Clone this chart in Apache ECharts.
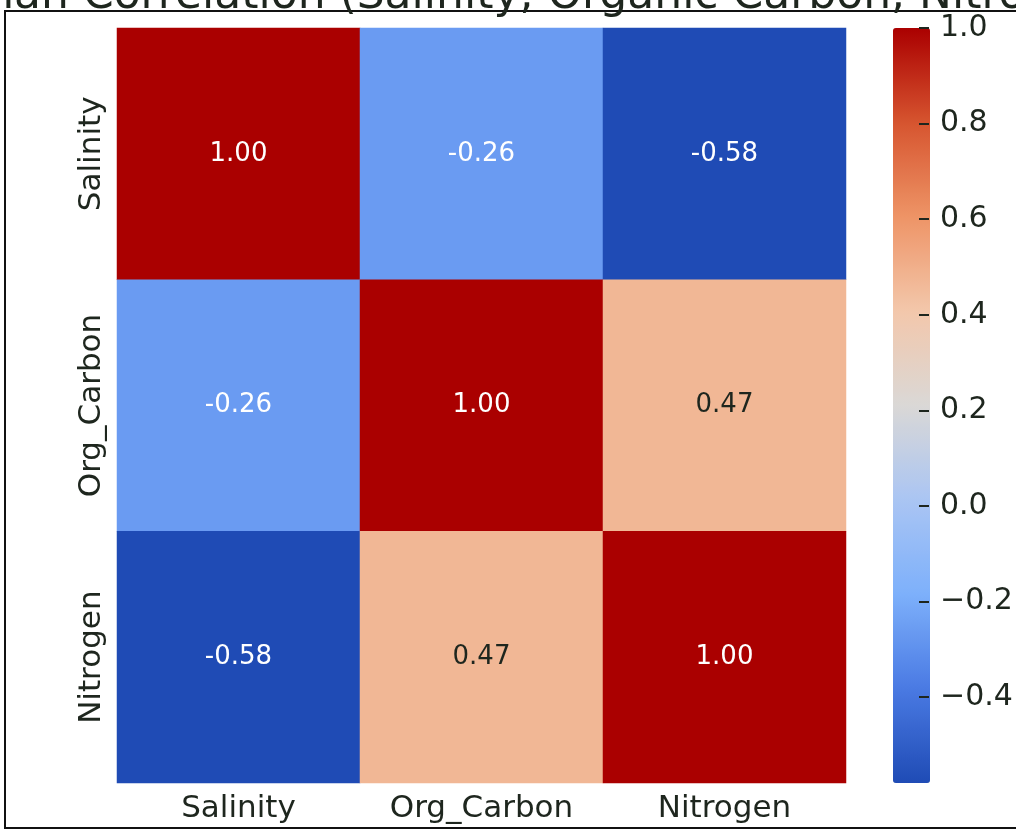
<!DOCTYPE html>
<html>
<head>
<meta charset="utf-8">
<script src="https://cdn.jsdelivr.net/npm/echarts@6/dist/echarts.min.js"></script>
<style>html,body{margin:0;padding:0;background:#fff;}#chart{width:1016px;height:837px;}</style>
</head>
<body>
<div id="chart"></div>
<script>
const variables = ['Salinity', 'Org_Carbon', 'Nitrogen'];
const corrMatrix = [
  [1.00, -0.26, -0.58],
  [-0.26, 1.00, 0.47],
  [-0.58, 0.47, 1.00]
];
const colorbarTicks = [-0.4, -0.2, 0.0, 0.2, 0.4, 0.6, 0.8, 1.0];
const colorMin = -0.58;
const colorMax = 1.0;
const titleText = 'Spearman Correlation (Salinity, Organic Carbon, Nitrogen)';

const heatData = [];
corrMatrix.forEach((row, r) => {
  row.forEach((v, c) => {
    const dark = v > 0 && v < 0.8;
    heatData.push({ value: [c, r, v], label: { color: dark ? '#1e261e' : '#ffffff' } });
  });
});

const chart = echarts.init(document.getElementById('chart'));
const FONT = 'DejaVu Sans';
chart.setOption({
  animation: false,
  backgroundColor: '#ffffff',
  title: {
    text: titleText,
    left: -156,
    top: -25,
    padding: 0,
    textStyle: { fontFamily: FONT, fontSize: 44, fontWeight: 'normal', color: '#1e261e' }
  },
  graphic: [{
    type: 'rect',
    shape: { x: 5, y: 11, width: 1100, height: 817 },
    style: { fill: 'none', stroke: '#111', lineWidth: 2 },
    silent: true,
    z: 0
  }],
  grid: [
    { left: 117, top: 28, width: 729, height: 755 },
    { left: 929, top: 28, width: 1, height: 755 }
  ],
  xAxis: [{
    type: 'category', data: variables, gridIndex: 0,
    axisLine: { show: false },
    axisTick: { show: true, inside: true, alignWithLabel: true, length: 12, lineStyle: { color: '#1e261e', width: 1.5 } },
    axisLabel: { fontFamily: FONT, fontSize: 31, color: '#1e261e', margin: 10 },
    splitLine: { show: false }
  }, {
    type: 'value', gridIndex: 1, min: 0, max: 1, show: false
  }],
  yAxis: [{
    type: 'category', data: variables, gridIndex: 0, inverse: true,
    axisLine: { show: false },
    axisTick: { show: true, inside: true, alignWithLabel: true, length: 11, lineStyle: { color: '#1e261e', width: 1.5 } },
    axisLabel: { fontFamily: FONT, fontSize: 31, color: '#1e261e', margin: 10, rotate: 90 },
    splitLine: { show: false }
  }, {
    type: 'value', gridIndex: 1, min: colorMin, max: colorMax, position: 'right',
    z: 20,
    axisLine: { show: false },
    axisTick: { show: true, inside: true, length: 10, customValues: colorbarTicks, lineStyle: { color: '#1e261e', width: 2 } },
    axisLabel: {
      fontFamily: FONT, fontSize: 30, color: '#1e261e', margin: 10,
      customValues: colorbarTicks,
      formatter: v => (v < 0 ? '\u2212' : '') + Math.abs(v).toFixed(1)
    },
    splitLine: { show: false }
  }],
  visualMap: {
    type: 'continuous',
    min: colorMin, max: colorMax,
    left: 893, top: 28,
    itemWidth: 37, itemHeight: 755,
    padding: 0,
    calculable: false,
    text: null,
    showLabel: false,
    seriesIndex: 0,
    z: 2,
    inRange: {
      color: ['#1f4bb5', '#4a7ae3', '#7db0fb', '#aac5f3', '#dad8d6', '#f3c7ab', '#ee9466', '#d6542f', '#aa0000']
    }
  },
  series: [{
    type: 'heatmap',
    xAxisIndex: 0, yAxisIndex: 0,
    data: heatData,
    label: {
      show: true, fontFamily: FONT, fontSize: 26,
      formatter: p => p.value[2].toFixed(2)
    },
    itemStyle: { borderWidth: 0 },
    emphasis: { disabled: true }
  }, {
    type: 'line', xAxisIndex: 1, yAxisIndex: 1, data: [], silent: true
  }]
});
</script>
</body>
</html>
